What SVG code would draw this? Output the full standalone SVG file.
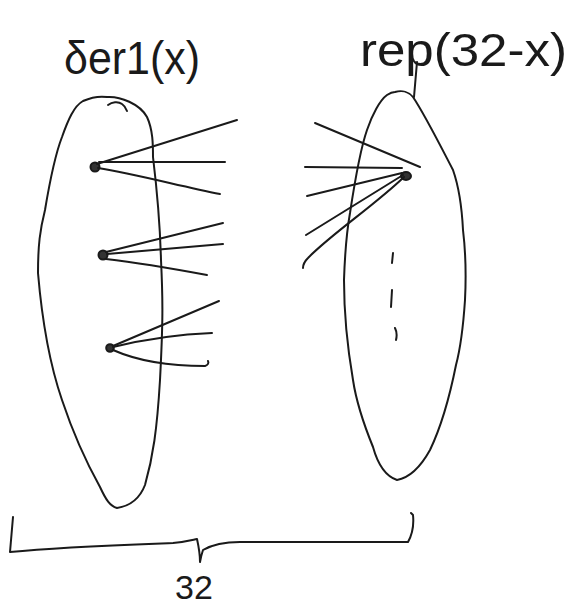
<svg xmlns="http://www.w3.org/2000/svg" width="571" height="609" viewBox="0 0 571 609">
<style>
.s{fill:none;stroke:#1a1a1a;stroke-width:2;stroke-linecap:round;stroke-linejoin:round}
.t{font-family:"Liberation Sans","DejaVu Sans",sans-serif;fill:#1a1a1a;font-weight:normal}
.d{fill:#333;stroke:#1a1a1a;stroke-width:2}
</style>
<rect width="571" height="609" fill="#fff"/>
<g id="label-left"><text class="t" x="64" y="74" font-size="46" textLength="136" lengthAdjust="spacingAndGlyphs">δer1(x)</text></g>
<g id="label-right"><text class="t" x="360" y="66" font-size="46" textLength="207" lengthAdjust="spacingAndGlyphs">rep(32-x)</text></g>
<g id="set-left">
<path class="s" d="M107,97 C120,96 140,104 147,117 C153,130 153,145 153,157 C157,190 160,223 161,260 C163,300 163,323 160,380 C157,430 153,457 145,485 C140,498 130,506 117,508 C110,506 106,500 100,487 C85,460 72,430 62,400 C50,365 42,320 38,273 C38,245 40,230 45,210 C50,180 55,155 62,137 C68,120 74,106 83,101 C92,97 100,96 107,97 Z"/>
<path class="s" d="M108,105 C112,102 118,101 122,104 C125,106 126,108 127,111"/>
</g>
<g id="set-right">
<path class="s" d="M395,92 C402,90 409,92 413,97 C425,115 440,145 453,170 C460,190 462,210 463,230 C466,255 466,280 465,300 C463,330 460,350 456,365 C450,395 442,425 430,450 C420,468 408,478 397,480 C385,476 378,465 373,447 C362,420 356,400 353,380 C347,345 344,310 344,280 C345,250 347,230 350,213 C355,180 360,150 367,130 C372,115 380,100 387,95 C390,93 392,92 395,92 Z"/>
<path class="s" d="M417,62 L414,97"/>
<path class="s" d="M393,253 L392,263 M392,290 L391,307 M395,328 C397,332 397,336 396,340"/>
</g>
<g id="node-l1"><circle class="d" cx="95" cy="167" r="4.5"/></g>
<g id="node-l2"><circle class="d" cx="103" cy="255" r="4.5"/></g>
<g id="node-l3"><circle class="d" cx="110" cy="348" r="3.8"/></g>
<g id="node-r1"><ellipse class="d" cx="406" cy="176" rx="5" ry="4"/></g>
<g id="connectors">
<path class="s" d="M97,164 L237,120"/>
<path class="s" d="M99,162 L225,162"/>
<path class="s" d="M98,168 C135,174 180,186 220,194"/>
<path class="s" d="M106,252 L223,223"/>
<path class="s" d="M107,254 L223,244"/>
<path class="s" d="M106,259 C140,263 180,270 207,275"/>
<path class="s" d="M113,346 L219,301"/>
<path class="s" d="M113,347 C150,338 185,334 212,333"/>
<path class="s" d="M113,350 C140,362 175,366 205,366 C208,365 209,363 208,361"/>
<path class="s" d="M315,123 L420,167"/>
<path class="s" d="M402,168 L305,167"/>
<path class="s" d="M402,173 L307,196"/>
<path class="s" d="M403,175 L306,235"/>
<path class="s" d="M404,177 C375,205 330,235 308,258 C304,262 303,266 303,268"/>
</g>
<g id="brace">
<path class="s" d="M13,517 L10,552 C60,547 120,545 173,543 C185,542 192,540 197,539 C199,548 200,555 200,562 C201,556 202,553 203,550 C215,543 228,542 240,542 L408,542 C412,535 414,525 413,515 L411,513"/>
<text class="t" x="194" y="599" font-size="34" text-anchor="middle">32</text>
</g>
</svg>
